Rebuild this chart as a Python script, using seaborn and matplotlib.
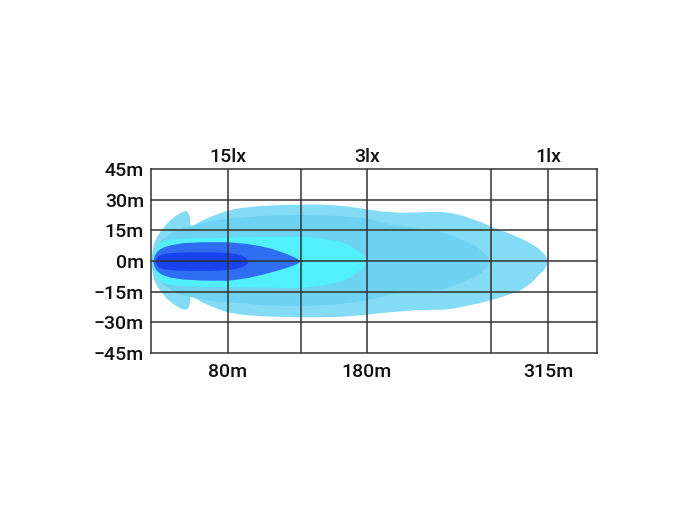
import numpy as np
import matplotlib
matplotlib.use("Agg")
import matplotlib.pyplot as plt
import seaborn as sns

# tick labels
y_ticks = [-45, -30, -15, 0, 15, 30, 45]
y_labels = ["\u221245m", "\u221230m", "\u221215m", "0m", "15m", "30m", "45m"]
x_grid = [77, 150, 216, 340, 397]          # vertical grid lines (distance units)
x_label_pos = [77, 216, 397]
dist_labels = ["80m", "180m", "315m"]
lux_labels = ["15lx", "3lx", "1lx"]

# beam contours: distance, upper edge (m), lower edge (m)
outer_x = [0, 0.5, 1.5, 3, 6, 9, 12, 15, 19, 23, 27, 31, 34, 36, 37.5, 38.5, 39, 42, 46, 52,
           60, 68, 77, 90, 110, 130, 150, 170, 190, 205, 216, 230, 249, 265, 279, 289, 300,
           312, 322, 331, 339, 350, 360, 368, 375, 381, 386, 390, 393, 395, 396]
outer_up = [0, 3, 6.5, 9.5, 12.5, 14.7, 16.5, 18.3, 20.2, 21.8, 23.2, 24.3, 24.7, 24.4, 23.2,
            21, 17.5, 17.6, 18.8, 20.4, 22, 23.5, 25, 26.2, 27.2, 27.6, 27.8, 27.8, 27.3, 26.3,
            25.5, 24.5, 23.8, 24, 24.3, 24.3, 23.7, 22.3, 20.6, 19, 17.2, 15.2, 13.3, 11.6,
            10, 8.3, 6.7, 5, 3.5, 2, 0]
outer_lo = [0, -3, -6.5, -9.5, -12.5, -14.5, -16.3, -18, -19.8, -21.2, -22.4, -23.3, -23.6,
            -23.3, -22.3, -20.5, -17, -17.3, -18.6, -20.3, -22, -23.5, -25, -26, -26.8, -27.1,
            -27.3, -27.3, -27, -26.5, -26, -25.2, -24.4, -23.8, -23.6, -23.6, -23.2, -22, -21,
            -20, -19, -17.4, -15.8, -14.3, -12.3, -10, -7.3, -5.4, -3.8, -2.2, 0]

band_x = [1, 2, 5, 10, 20, 32, 45, 60, 77, 110, 150, 190, 216, 239, 260, 289, 305, 322, 330,
          336, 339]
band_up = [0, 3.5, 7, 10.5, 14, 16.5, 18, 19.8, 21, 22.3, 22.8, 22.2, 21, 18, 16.8, 14.7,
           11.8, 8, 5.5, 2.5, 0]
band_lo = [0, -3.5, -7, -10.5, -14, -16.5, -18, -19.3, -20, -21.3, -22, -20.8, -19, -16, -15,
           -13.8, -11.2, -8, -5.5, -2.5, 0]

cyan_x = [2, 3, 5, 8, 12, 20, 30, 50, 77, 110, 149, 170, 189, 196, 202, 207, 211, 214, 216]
cyan_up = [0, 4, 7, 9, 10.2, 10.8, 11.2, 11.5, 11.7, 12, 12.2, 11.2, 9.8, 8.5, 6.8, 5, 3.3,
           1.8, 0]
cyan_lo = [0, -4, -7, -9, -10.5, -11.5, -12, -12.4, -12.6, -12.8, -13, -11.8, -10, -8.6,
           -6.8, -5, -3.3, -1.8, 0]

mid_x = [2, 3, 5, 8, 12, 20, 32, 50, 77, 95, 110, 120, 130, 138, 144, 147, 149]
mid_up = [0, 2.5, 4.3, 5.7, 6.8, 8, 9, 9.4, 9.4, 8.6, 7.4, 6.2, 4.6, 3.1, 1.8, 0.9, 0]
mid_lo = [0, -2.5, -4.3, -5.6, -6.8, -8, -8.8, -9.3, -9.4, -8.2, -6.6, -5.3, -3.9, -2.7,
          -1.6, -0.8, 0]

core_x = [4, 5, 7, 10, 15, 25, 40, 60, 77, 85, 90, 94, 96, 97]
core_up = [0, 1.8, 2.8, 3.4, 3.9, 4.3, 4.5, 4.5, 4.2, 3.6, 2.9, 1.9, 1, 0]
core_lo = [0, -1.8, -2.8, -3.5, -4, -4.4, -4.6, -4.6, -4.2, -3.6, -2.9, -1.9, -1, 0]

sns.set_style("white")
plt.rcParams['font.family'] = ['Roboto', 'Liberation Sans', 'DejaVu Sans']
plt.rcParams['font.weight'] = 'medium'

colors = sns.color_palette(["#84dbf6", "#6ed3f3", "#52f0fc", "#2f6ef2", "#1842ea"])

fig = plt.figure(figsize=(7, 5.25), dpi=100)
ax = fig.add_axes([0.2157, 0.3276, 0.6371, 0.3505])

layers = [(outer_x, outer_up, outer_lo), (band_x, band_up, band_lo),
          (cyan_x, cyan_up, cyan_lo), (mid_x, mid_up, mid_lo),
          (core_x, core_up, core_lo)]
for (xs, up, lo), c in zip(layers, colors):
    ax.fill_between(xs, lo, up, color=c, linewidth=0, zorder=1)

ax.set_xlim(0, 446)
ax.set_ylim(-45, 45)

# grid
for v in x_grid:
    ax.axvline(v, color="#333333", lw=1.1, zorder=3)
for h in y_ticks[1:-1]:
    ax.axhline(h, color="#333333", lw=1.1, zorder=3)
for s in ax.spines.values():
    s.set_color("#333333")
    s.set_linewidth(1.1)
    s.set_zorder(4)

ax.set_yticks(y_ticks, y_labels)
ax.tick_params(axis="y", length=4, width=1.1, color="#333333", pad=1,
               labelsize=14, labelcolor="#111111")
ax.set_xticks(x_label_pos, dist_labels)
ax.tick_params(axis="x", length=0, pad=7, labelsize=14, labelcolor="#111111")

top = ax.secondary_xaxis("top")
top.set_xticks(x_label_pos, lux_labels)
top.tick_params(length=0, pad=2, labelsize=14, labelcolor="#111111")
top.spines["top"].set_visible(False)

fig.savefig("out.png", dpi=100)
